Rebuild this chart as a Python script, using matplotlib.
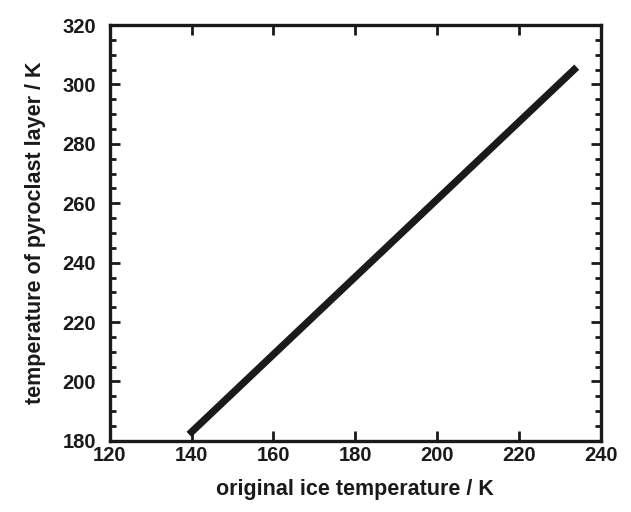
import matplotlib
matplotlib.use('Agg')
import matplotlib.pyplot as plt
from matplotlib.ticker import MultipleLocator

# original ice temperature vs resulting pyroclast layer temperature
ice_temp = [140, 233.5]
pyroclast_temp = [183.0, 305.0]

x_ticks = [120, 140, 160, 180, 200, 220, 240]
y_ticks = [180, 200, 220, 240, 260, 280, 300, 320]

plt.rcParams['font.family'] = ['Liberation Sans', 'DejaVu Sans']
plt.rcParams['font.weight'] = 'bold'

fig = plt.figure(figsize=(6.31, 5.12), dpi=100)
ax = fig.add_axes([0.174, 0.139, 0.778, 0.812])

ax.plot(ice_temp, pyroclast_temp, color='#1a1a1a', linewidth=5.2,
        solid_capstyle='projecting')

ax.set_xlim(120, 240)
ax.set_ylim(180, 320)
ax.set_xticks(x_ticks)
ax.set_yticks(y_ticks)
ax.yaxis.set_minor_locator(MultipleLocator(5))

for s in ax.spines.values():
    s.set_linewidth(2.4)
    s.set_color('#1a1a1a')

ax.tick_params(which='both', direction='in', top=True, right=True,
               width=2, color='#1a1a1a', labelsize=14.5)
ax.tick_params(which='major', length=7)
ax.tick_params(which='minor', length=4.5)
ax.tick_params(axis='x', pad=4)
ax.tick_params(axis='y', pad=10)

for lab in ax.get_xticklabels() + ax.get_yticklabels():
    lab.set_fontweight('bold')
    lab.set_color('#1a1a1a')

ax.set_xlabel('original ice temperature / K', fontsize=15.5, fontweight='bold',
              color='#1a1a1a', labelpad=10)
ax.set_ylabel('temperature of pyroclast layer / K', fontsize=15.5,
              fontweight='bold', color='#1a1a1a', labelpad=12)

fig.savefig('out.png', dpi=100)
